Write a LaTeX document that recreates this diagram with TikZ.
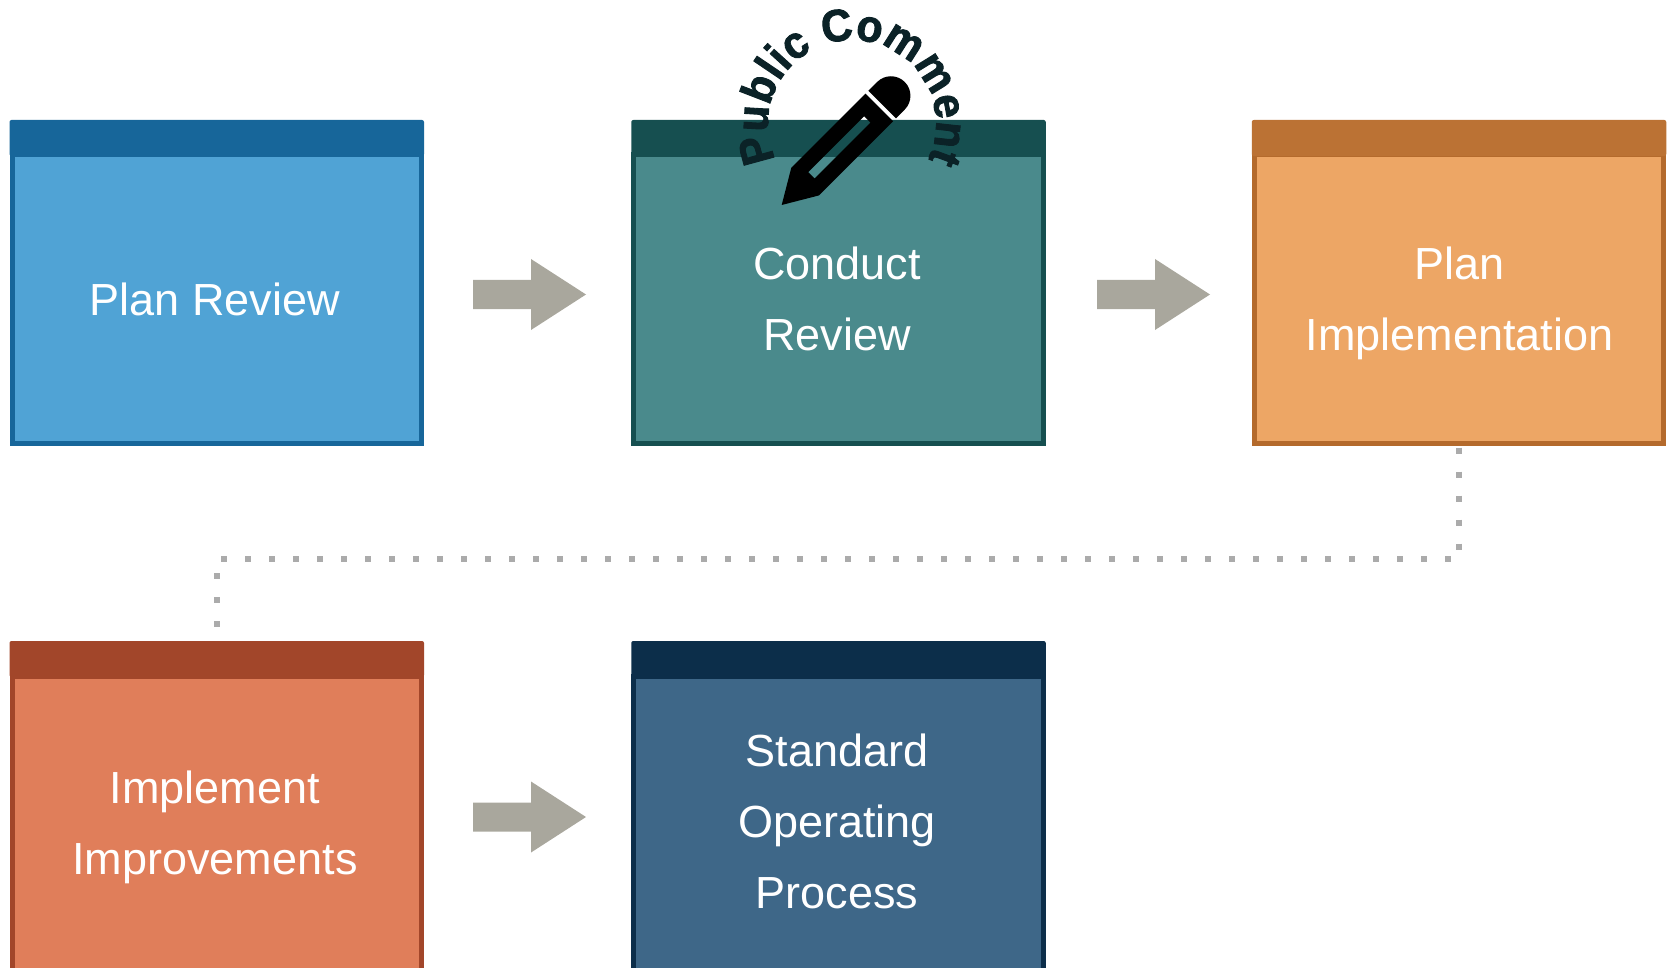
\documentclass[tikz,border=0pt]{standalone}
\usepackage{fontspec}
\setmainfont{Liberation Sans}
\newfontface\pcfont{Liberation Sans Bold}[FakeBold=2, FakeStretch=0.95]
\usetikzlibrary{decorations.text,calc}
\definecolor{hdA}{HTML}{17669A}\definecolor{bdA}{HTML}{50A3D5}
\definecolor{hdB}{HTML}{164F50}\definecolor{bdB}{HTML}{4A8A8C}
\definecolor{hdC}{HTML}{BB7234}\definecolor{bdC}{HTML}{EDA665}\definecolor{rmC}{HTML}{B46A2C}
\definecolor{hdD}{HTML}{A2462A}\definecolor{bdD}{HTML}{E07E5A}
\definecolor{hdE}{HTML}{0C2E4A}\definecolor{bdE}{HTML}{3E6788}
\definecolor{arrowgray}{HTML}{A9A79D}
\definecolor{dotgray}{HTML}{ABABAB}
\definecolor{pctext}{HTML}{0B2227}
\begin{document}
\begin{tikzpicture}[x=1pt,y=1pt,
  bodybox/.style={draw, line width=5pt, minimum width=409.5pt, inner sep=0pt, outer sep=0pt},
  hdrbox/.style={rounded corners=2pt, minimum width=414.5pt, minimum height=36pt, inner sep=0pt, outer sep=0pt, anchor=south},
  lbl/.style={text=white, align=center, font=\fontsize{45}{71}\selectfont, text depth=0pt, inner sep=0pt},
  dotline/.style={draw=dotgray, line width=6pt, dash pattern=on 6pt off 18pt},
  blockarrow/.pic={\fill[arrowgray] (-56.5,-14.5) -- (1.5,-14.5) -- (1.5,-35.5) -- (56.5,0) -- (1.5,35.5) -- (1.5,14.5) -- (-56.5,14.5) -- cycle;}
  ]
\useasboundingbox (0,-968) rectangle (1667,0);
\clip (0,-968) rectangle (1667,0);

% top row
\node[bodybox, fill=bdA, draw=hdA, minimum height=288.5pt] (b1) at (216.75,-299.25) {};
\node[hdrbox, fill=hdA] (h1) at ([yshift=-1pt]b1.north) {};
\node[bodybox, fill=bdB, draw=hdB, minimum height=288.5pt] (b2) at (838.5,-299.25) {};
\node[hdrbox, fill=hdB] (h2) at ([yshift=-1pt]b2.north) {};
\node[bodybox, fill=bdC, draw=rmC, minimum height=288.5pt] (b3) at (1459,-299.25) {};
\node[hdrbox, fill=hdC] (h3) at ([yshift=-1pt]b3.north) {};
% bottom row
\node[bodybox, fill=bdD, draw=hdD, minimum height=314pt] (b4) at (216.75,-833) {};
\node[hdrbox, fill=hdD] (h4) at ([yshift=-1pt]b4.north) {};
\node[bodybox, fill=bdE, draw=hdE, minimum height=314pt] (b5) at (838.5,-833) {};
\node[hdrbox, fill=hdE] (h5) at ([yshift=-1pt]b5.north) {};

% labels
\node[lbl] (t1) at (215,-299) {Plan Review};
\node[lbl] (t2) at (837,-299) {Conduct\\Review};
\node[lbl] (t3) at (1459.5,-299) {Plan\\Implementation};
\node[lbl] (t4) at (215,-823) {Implement\\Improvements};
\node[lbl] (t5) at (837,-821) {Standard\\Operating\\Process};

% block arrows
\path (529.5,-294.5) pic {blockarrow};
\path (1153.5,-294.5) pic {blockarrow};
\path (529.5,-817) pic {blockarrow};

% dotted connector
\draw[dotline] ([yshift=-4.2pt]b3.south) -- ++(0,-111.6) -| ([yshift=13pt]h4.north);

% pencil
\begin{scope}[shift={(781.7,-205)}, rotate=45]
\fill[black, even odd rule] (0,0) -- (33,19.5) -- (138,19.5) -- (138,-19.5) -- (33,-19.5) -- cycle
   (42,4.5) rectangle (121,-4.5);
\fill[black] (142,19.5) -- (154.5,19.5) arc[start angle=90, end angle=-90, radius=19.5] -- (142,-19.5) -- cycle;
\end{scope}

% arc text
\path[decorate, decoration={text along path, text color=pctext, text align=center,
  text={|\fontsize{45}{45}\pcfont|Public Comment}}]
  (852,-124) ++(215:84) arc[start angle=215, end angle=-35, radius=84];
\end{tikzpicture}
\end{document}
